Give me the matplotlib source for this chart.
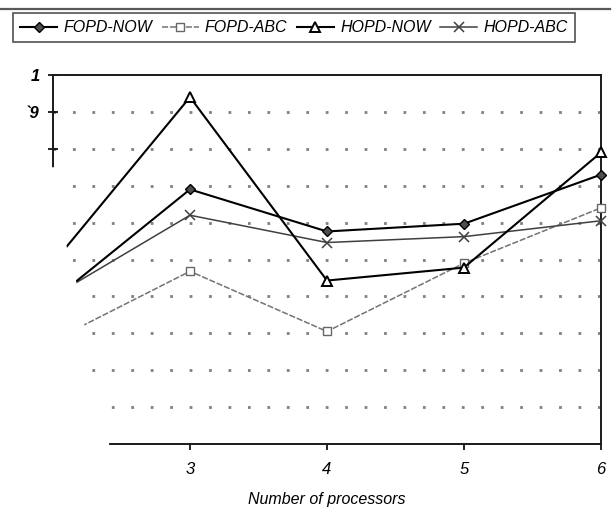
# wykres efektywności algorytmów w zależności od liczby procesorów
import matplotlib
matplotlib.use("Agg")
import matplotlib.pyplot as plt
from matplotlib.lines import Line2D
from matplotlib.patches import Polygon

# liczba procesorów
numberOfProcessors = [2, 3, 4, 5, 6]
# wyniki dla poszczególnych wariantów
fopdNow = [0.39, 0.69, 0.576, 0.597, 0.73]
fopdAbc = [0.28, 0.468, 0.305, 0.49, 0.64]
hopdNow = [0.49, 0.94, 0.443, 0.478, 0.79]
hopdAbc = [0.40, 0.62, 0.546, 0.562, 0.605]
seriesNames = ["FOPD-NOW", "FOPD-ABC", "HOPD-NOW", "HOPD-ABC"]
xTickLabels = ["3", "4", "5", "6"]
yTickValues = [0.8, 0.9, 1.0]
yTickLabels = ["", "`9", "1"]
gridLevels = [0.1, 0.2, 0.3, 0.4, 0.5, 0.6, 0.7, 0.8, 0.9]

plt.rcParams["font.family"] = ["Liberation Sans", "DejaVu Sans"]


def producePlot():
    fig = plt.figure(figsize=(6.14, 5.26), dpi=100)
    ax = fig.add_axes([0.0863, 0.1559, 0.8925, 0.7015])

    # kropkowana siatka pozioma
    for level in gridLevels:
        ax.axhline(level, color="0.5", lw=2.0, ls=(0, (1, 6)), zorder=1)

    # linie poszczególnych serii
    ax.plot(numberOfProcessors, fopdNow, color="black", lw=1.5, marker="D",
            ms=5.5, mfc="0.3", mec="black", mew=1.0, clip_on=False, zorder=5)
    ax.plot(numberOfProcessors, fopdAbc, color="0.45", lw=1.1, ls=(0, (4, 1.2)),
            marker="s", ms=6, mfc="white", mec="0.4", mew=1.0, clip_on=False, zorder=4)
    ax.plot(numberOfProcessors, hopdNow, color="black", lw=1.5, marker="^",
            ms=7.5, mfc="white", mec="black", mew=1.4, clip_on=False, zorder=6)
    ax.plot(numberOfProcessors, hopdAbc, color="0.25", lw=1.1, marker="x",
            ms=7.5, mec="0.25", mew=1.1, clip_on=False, zorder=4)

    ax.set_xlim(2, 6)
    ax.set_ylim(0, 1)
    ax.set_xticks([3, 4, 5, 6])
    ax.set_xticklabels(xTickLabels, fontstyle="italic", fontsize=12)
    ax.set_yticks(yTickValues)
    ax.set_yticklabels(yTickLabels, fontstyle="italic", fontsize=12, fontweight="bold")
    ax.tick_params(axis="x", direction="out", length=4, width=1.2, pad=9)
    ax.tick_params(axis="y", direction="inout", length=7, width=1.2, pad=6)
    ax.set_xlabel("Number of processors", fontstyle="italic", fontsize=11.5, labelpad=11)

    for side in ["left", "right", "top", "bottom"]:
        ax.spines[side].set_linewidth(1.4)
        ax.spines[side].set_color("0.1")

    # wyblakły lewy dolny róg skanu
    fadeCorner = Polygon([(1.5, 0.75), (2.06, 0.75), (2.06, 0.6), (2.10, 0.535),
                          (2.17, 0.44), (2.23, 0.32), (2.30, 0.15), (2.41, 0.0),
                          (2.41, -0.06), (1.5, -0.06)],
                         closed=True, facecolor="white", edgecolor="none",
                         zorder=20, clip_on=False)
    ax.add_patch(fadeCorner)

    # legenda w ramce nad wykresem
    handles = [
        Line2D([], [], color="black", lw=1.5, marker="D", ms=5.5, mfc="0.3", mec="black"),
        Line2D([], [], color="0.45", lw=1.1, ls=(0, (4, 1.2)), marker="s", ms=6,
               mfc="white", mec="0.4"),
        Line2D([], [], color="black", lw=1.5, marker="^", ms=7, mfc="white",
               mec="black", mew=1.4),
        Line2D([], [], color="0.25", lw=1.1, marker="x", ms=7, mec="0.25", mew=1.1),
    ]
    leg = fig.legend(handles, seriesNames, loc="upper left",
                     bbox_to_anchor=(13 / 614, 1 - 13 / 526), ncol=4,
                     frameon=True, fancybox=False, edgecolor="0.15",
                     prop={"style": "italic", "size": 11.5},
                     handlelength=2.3, handletextpad=0.4, columnspacing=0.6,
                     borderpad=0.45, borderaxespad=0)
    leg.get_frame().set_linewidth(1.2)

    # pozioma linia na górze strony
    fig.add_artist(Line2D([0, 610 / 614], [1 - 9 / 526, 1 - 9 / 526],
                          color="0.35", lw=1.6))

    plt.savefig("out.png", dpi=100)


producePlot()
